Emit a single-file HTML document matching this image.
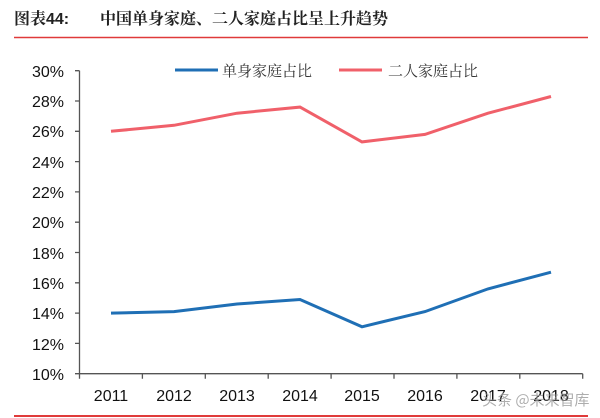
<!DOCTYPE html><html><head><meta charset="utf-8"><style>body{margin:0;background:#fff}svg{display:block}</style></head><body>
<svg width="600" height="418" xmlns="http://www.w3.org/2000/svg" font-family="Liberation Sans, Noto Sans CJK SC, sans-serif">
<text x="14" y="24" font-size="16" font-weight="bold" fill="#222" font-family="Liberation Sans, Noto Serif CJK SC, sans-serif">图表44:</text>
<text x="100" y="24" font-size="16" font-weight="bold" fill="#222" font-family="Noto Serif CJK SC, sans-serif">中国单身家庭、二人家庭占比呈上升趋势</text>
<line x1="14" y1="37.5" x2="588" y2="37.5" stroke="#e03a3a" stroke-width="1.5"/>
<line x1="14" y1="416" x2="588" y2="416" stroke="#e03a3a" stroke-width="2"/>
<g font-size="16" fill="#111" text-anchor="end">
<text x="64" y="77">30%</text><text x="64" y="107">28%</text><text x="64" y="137">26%</text><text x="64" y="168">24%</text><text x="64" y="198">22%</text><text x="64" y="228">20%</text><text x="64" y="259">18%</text><text x="64" y="289">16%</text><text x="64" y="319">14%</text><text x="64" y="350">12%</text><text x="64" y="380">10%</text>
</g>
<g stroke="#555" stroke-width="1.3" fill="none">
<path d="M79.5 70.7V373.7H582.7"/>
<path d="M75 70.7H79.5M75 101H79.5M75 131.3H79.5M75 161.6H79.5M75 191.9H79.5M75 222.2H79.5M75 252.5H79.5M75 282.8H79.5M75 313.1H79.5M75 343.4H79.5M75 373.7H79.5"/>
<path d="M79.5 373.7v5M142.4 373.7v5M205.3 373.7v5M268.2 373.7v5M331.1 373.7v5M394 373.7v5M456.9 373.7v5M519.8 373.7v5M582.7 373.7v5"/>
</g>
<g font-size="16" fill="#111" text-anchor="middle">
<text x="111" y="401">2011</text><text x="174" y="401">2012</text><text x="237" y="401">2013</text><text x="300" y="401">2014</text><text x="362" y="401">2015</text><text x="425" y="401">2016</text><text x="488" y="401">2017</text><text x="551" y="401">2018</text>
</g>
<polyline fill="none" stroke="#1f6fb5" stroke-width="3" points="111,313.1 174,311.6 237,304 300,299.5 362,326.8 425,311.6 488,288.9 551,272.2"/>
<polyline fill="none" stroke="#f0606a" stroke-width="3" points="111,131.3 174,125.3 237,113.2 300,107.1 362,141.9 425,134.4 488,113.2 551,96.5"/>
<line x1="175" y1="70" x2="218" y2="70" stroke="#1f6fb5" stroke-width="3"/>
<text x="222" y="76" font-size="15" fill="#333" font-family="Noto Serif CJK SC, sans-serif">单身家庭占比</text>
<line x1="339" y1="70" x2="382" y2="70" stroke="#f0606a" stroke-width="3"/>
<text x="388" y="76" font-size="15" fill="#333" font-family="Noto Serif CJK SC, sans-serif">二人家庭占比</text>
<text x="482" y="405" font-size="15" fill="#999" opacity="0.8" font-family="Noto Sans CJK SC, sans-serif">头条 @未来智库</text>
</svg>
</body></html>
